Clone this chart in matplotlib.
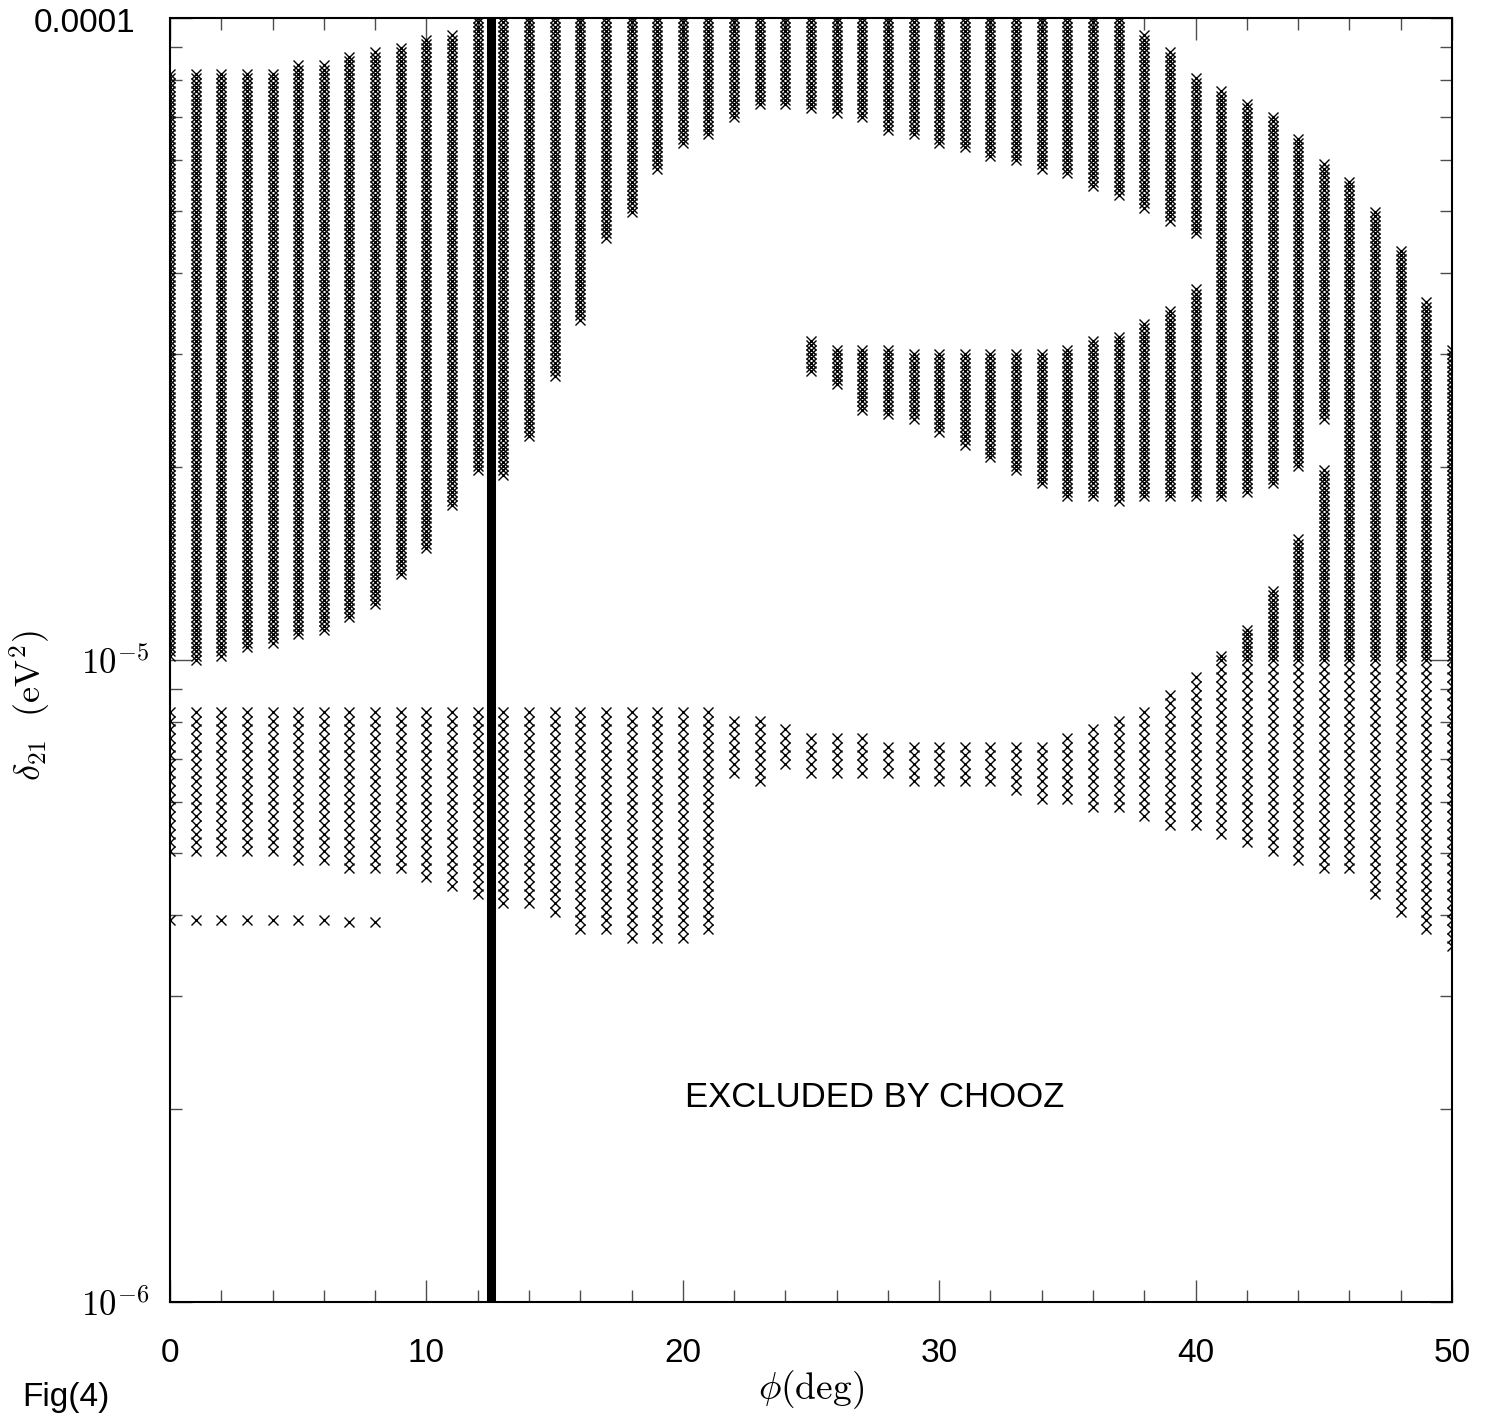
import numpy as np
import matplotlib.pyplot as plt
from matplotlib.ticker import FixedLocator, NullFormatter

plt.rcParams['mathtext.fontset'] = 'cm'
plt.rcParams['font.family'] = ['Liberation Sans', 'DejaVu Sans']

### Allowed regions, delta_21 in units of 1e-6 eV^2
phi = np.arange(0, 51)
up_top = [82.4, 82.4, 82.4, 82.4, 82.4, 84.5, 84.5, 86.6, 88.5, 90.4,
          92.4, 94.8, 100, 100, 100, 100, 100, 100, 100, 100,
          100, 100, 100, 100, 100, 100, 100, 100, 100, 100,
          100, 100, 100, 100, 100, 100, 100, 100, 94.8, 88.5,
          80.3, 76.7, 73.5, 70.1, 65.5, 59.7, 55.7, 49.7, 43.4, 36.0,
          30.6]
up_bot = [10.1, 9.93, 10.2, 10.4, 10.6, 10.9, 11.1, 11.6, 12.2, 13.6,
          14.9, 17.4, 19.8, 19.4, 22.2, 27.8, 33.6, 45.1, 49.7, 58.4,
          64.1, 65.7, 69.4, 73.2, 73.2, 71.9, 70.6, 69.4, 66.9, 65.7,
          64.1, 62.3, 61.2, 59.5, 58.4, 56.9, 54.4, 53.0, 50.8, 48.4,
          46.3, 17.9, 18.3, 18.7, 20.1, 23.7, 4.62, 4.31, 4.02, 3.76,
          3.51]

mid_phi = np.arange(25, 41)
mid_top = [31.5, 30.6, 30.6, 30.6, 30.1, 30.1, 30.1, 30.1, 30.0, 30.0,
           30.7, 31.4, 32.2, 33.6, 35.2, 37.7]
mid_bot = [28.1, 27.0, 24.5, 24.2, 23.6, 22.6, 21.6, 20.6, 19.8, 18.8,
           17.9, 17.9, 17.6, 17.9, 17.9, 17.9]

low_phi = np.arange(0, 46)
low_top = [8.45] * 20 + [8.27, 8.27, 8.06, 8.06, 7.84, 7.69, 7.69, 7.69, 7.50, 7.50,
                         7.50, 7.37, 7.50, 7.50, 7.50, 7.69, 7.86, 8.06, 8.45, 8.85,
                         9.48, 10.2, 11.1, 12.9, 15.4, 19.8]
low_bot = [4.93, 4.93, 4.93, 4.93, 4.93, 4.85, 4.85, 4.74, 4.74, 4.63,
           4.51, 4.41, 4.31, 4.20, 4.11, 4.01, 3.83, 3.76, 3.66, 3.66,
           3.66, 3.76, 6.62, 6.50, 6.74, 6.62, 6.62, 6.62, 6.62, 6.50,
           6.50, 6.50, 6.32, 6.23, 6.10, 5.94, 5.82, 5.82, 5.67, 5.53,
           5.44, 5.30, 5.19, 4.93, 4.85, 4.62]

iso_phi = np.arange(0, 9)
iso_val = [3.94, 3.94, 3.94, 3.94, 3.94, 3.94, 3.94, 3.91, 3.91]

chooz_phi = 12.5
x_ticks = [0, 10, 20, 30, 40, 50]
x_labels = ['0', '10', '20', '30', '40', '50']

# scanned delta_21 grid (1e-6 eV^2), finer in the upper decade
scan = np.concatenate([np.geomspace(1.0, 10.0, 75)[:-1], np.geomspace(10.0, 100.0, 150)])

W, H = 1491, 1416
fig = plt.figure(figsize=(W / 100, H / 100), dpi=100)
ax = fig.add_axes([170 / W, 1 - 1302 / H, (1452 - 170) / W, (1302 - 18) / H])

mk = dict(marker='x', ls='none', ms=7.5, mew=1.0, color='k')

def draw_col(p, lo, hi):
    sel = scan[(scan >= lo * 0.995) & (scan <= hi * 1.005)]
    ax.plot(np.full(len(sel), p), sel * 1e-6, **mk)

for i in range(len(phi)):
    draw_col(phi[i], up_bot[i], up_top[i])
for i in range(len(mid_phi)):
    draw_col(mid_phi[i], mid_bot[i], mid_top[i])
for i in range(len(low_phi)):
    draw_col(low_phi[i], low_bot[i], low_top[i])
ax.plot(iso_phi, np.array(iso_val) * 1e-6, **mk)

# CHOOZ bound
ax.plot([chooz_phi, chooz_phi], [1e-6, 1e-4], color='k', lw=6.5, solid_capstyle='butt')

ax.set_xlim(0, 50)
ax.set_yscale('log')
ax.set_ylim(1e-6, 1e-4)

ax.xaxis.set_major_locator(FixedLocator(x_ticks))
ax.xaxis.set_minor_locator(FixedLocator([v for v in range(2, 50, 2) if v % 10]))
ax.set_xticklabels(x_labels)
ax.yaxis.set_major_locator(FixedLocator([1e-6, 1e-5, 1e-4]))
ax.yaxis.set_minor_locator(FixedLocator([k * 10.0**e for e in (-6, -5) for k in range(2, 10)]))
ax.yaxis.set_minor_formatter(NullFormatter())
ax.set_yticklabels([r'$10^{-6}$', r'$10^{-5}$', ''])

ax.tick_params(which='both', direction='in', top=True, right=True, color='0.3', width=1.0)
ax.tick_params(which='major', length=15.8)
ax.tick_params(which='minor', length=8.6)
ax.tick_params(axis='x', which='major', pad=26, labelsize=24)
ax.tick_params(axis='y', which='major', pad=15, labelsize=25)
for s in ax.spines.values():
    s.set_linewidth(1.5)

fig.text(135 / W, 1 - 24 / H, '0.0001', ha='right', va='center', fontsize=24)
fig.text(811 / W, 1 - 1390 / H, r'$\phi(\mathrm{deg})$', ha='center', va='center', fontsize=27)
fig.text(30 / W, 1 - 705 / H, r'$\delta_{21}\ \ (\mathrm{eV^2})$', ha='center', va='center',
         rotation=90, fontsize=26)
fig.text(22 / W, 1 - 1382 / H, 'Fig(4)', ha='left', va='top', fontsize=24)
ax.text(27.5, 2.08e-6, 'EXCLUDED BY CHOOZ', ha='center', va='center', fontsize=25)

plt.savefig('out.png', dpi=100)
